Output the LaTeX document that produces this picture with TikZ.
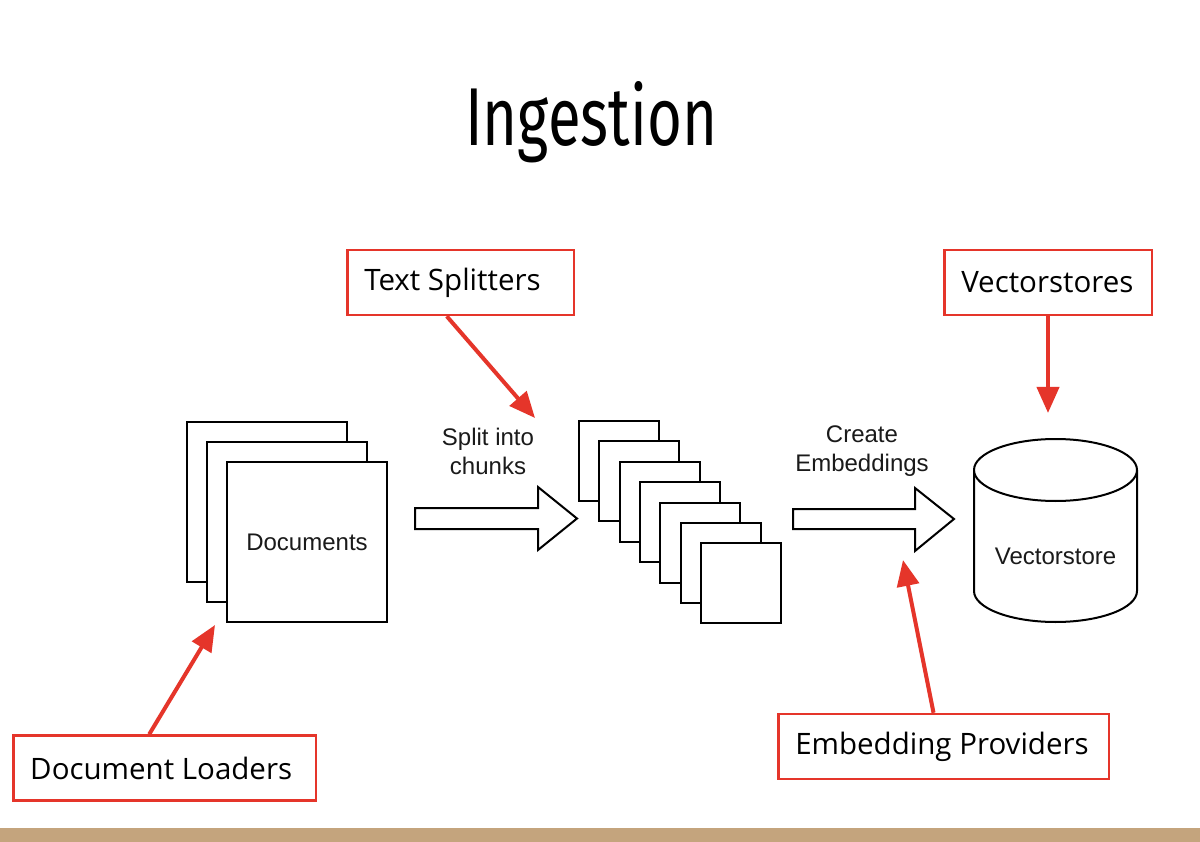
\documentclass[tikz,border=0pt]{standalone}
\usepackage{fontspec}
\setmainfont{Open Sans}
\newfontfamily\helv{Liberation Sans}
\newfontfamily\titlef{Fira Sans}
\usetikzlibrary{calc,arrows.meta}
\definecolor{redc}{HTML}{E5352A}
\definecolor{beige}{HTML}{C4A47D}
\definecolor{txtgray}{HTML}{1A1A1A}
\newcommand{\lbltext}[2]{\makebox[#1][l]{#2}}
\begin{document}
\begin{tikzpicture}[x=1pt,y=-1pt,
  redbox/.style={draw=redc, line width=2.5pt, inner xsep=17pt, inner ysep=0pt, minimum height=65pt, fill=white, font=\fontsize{29.5}{33}\selectfont, text=black},
  redarrow/.style={draw=redc, line width=4pt, -{Triangle[length=26pt,width=22pt]}},
  page/.style={draw=black, line width=2pt, fill=white, inner sep=0pt, anchor=north west},
  blockarrow/.style={draw=black, line width=2pt, fill=white, line join=miter},
  difont/.style={font=\helv\fontsize{24}{29}\selectfont, text=txtgray, align=center}]
\useasboundingbox (0,0) rectangle (1200,842);
\fill[white] (0,0) rectangle (1200,842);
\fill[beige] (0,828) rectangle (1200,842);
% title
\node[anchor=base west, inner sep=0pt] (title) at (465,146) {\resizebox{252pt}{64pt}{\titlef Ingestion}};
% documents stack
\node[page, minimum size=160pt] (doc1) at (186,421) {};
\node[page, minimum size=160pt] (doc2) at (206,441) {};
\node[page, minimum size=160pt, difont] (docs) at (226,461) {Documents};
% chunks stack
\foreach \i in {0,...,6}{
  \node[page, minimum size=80pt] (c\i) at (578+20.3*\i, 420+20.4*\i) {};
}
% block arrows
\draw[blockarrow] (415,508) -- (538,508) -- (538,487) -- (577,518.5) -- (538,550) -- (538,529) -- (415,529) -- cycle;
\draw[blockarrow] (793,509) -- (915,509) -- (915,488) -- (954,519) -- (915,551) -- (915,529) -- (793,529) -- cycle;
\node[difont] (split) at (488,451) {Split into\\chunks};
\node[difont] (create) at (862,451) {Create\\Embeddings};
% cylinder
\draw[line width=2pt, fill=white] (974,470) -- (974,591) arc[start angle=180, end angle=360, x radius=81.5pt, y radius=31pt] -- (1137,470);
\draw[line width=2pt, fill=white] (1055.5,470) ellipse [x radius=81.5pt, y radius=31pt];
\node[difont] (vstore) at (1055.5,556) {Vectorstore};
% red labels
\node[redbox] (dl) at (164.5,768) {\lbltext{268.5pt}{Document Loaders}};
\node[redbox] (ts) at (460.5,282.5) {\lbltext{192.5pt}{\raisebox{-2pt}{Text Splitters}}};
\node[redbox] (vs) at (1048,282.5) {\lbltext{173.5pt}{Vectorstores}};
\node[redbox] (ep) at (943.5,746.5) {\lbltext{296.5pt}{Embedding Providers}};
% red arrows
\coordinate (dltip) at (215,625);
\coordinate (tstip) at (535,418);
\coordinate (vstip) at (1048,413);
\coordinate (eptip) at (903,560);
\draw[redarrow] ($(dl.north west)!0.45!(dl.north east)$) -- (dltip);
\draw[redarrow] ($(ts.south west)!0.44!(ts.south east)$) -- (tstip);
\draw[redarrow] (vs.south) -- (vstip);
\draw[redarrow] ($(ep.north west)!0.47!(ep.north east)$) -- (eptip);
\end{tikzpicture}
\end{document}
